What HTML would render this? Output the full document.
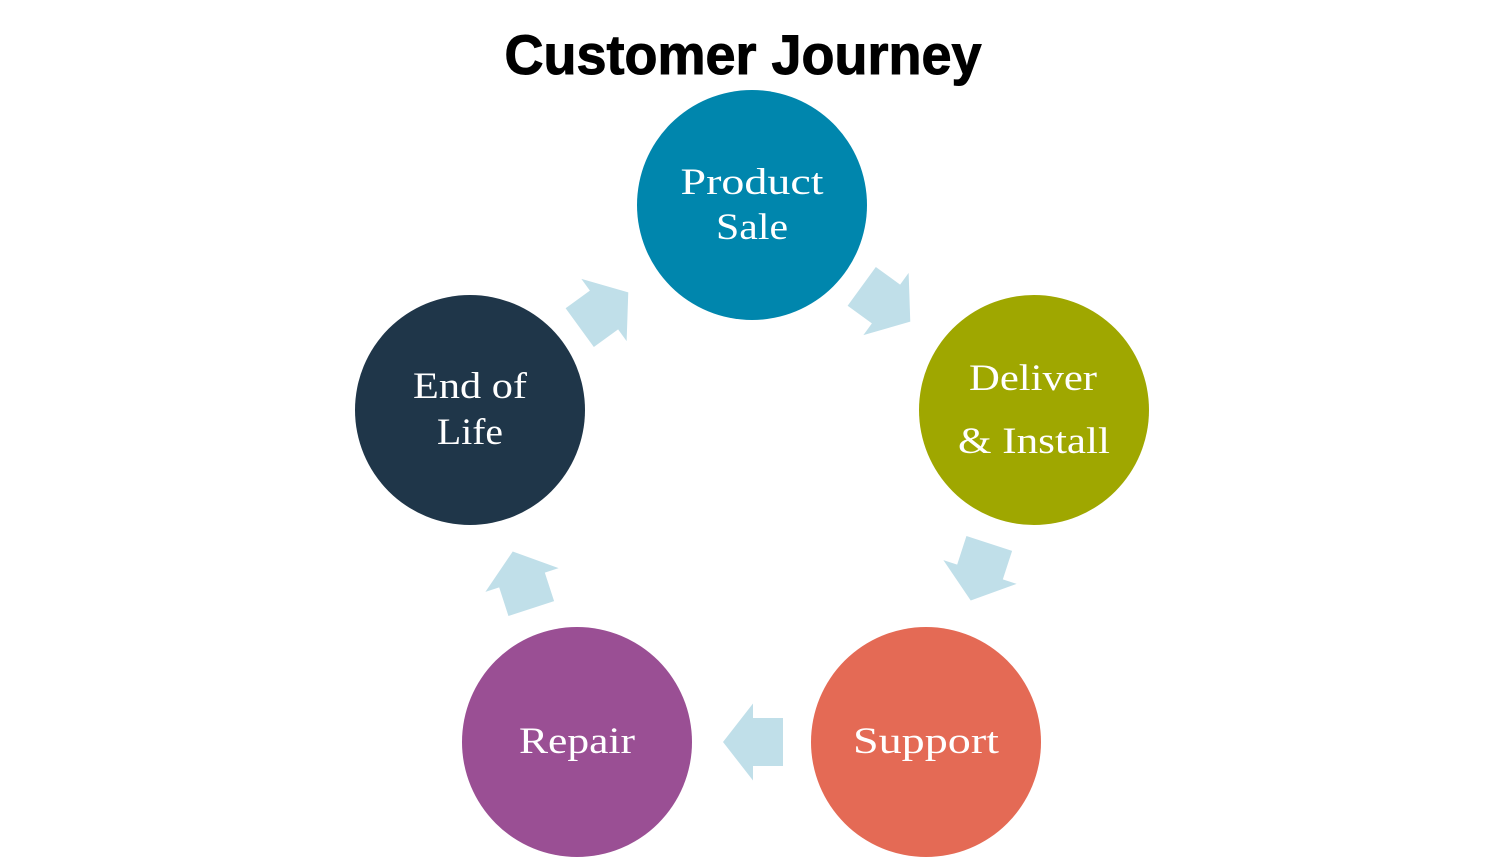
<!DOCTYPE html>
<html><head><style>
body{margin:0;background:#fff;}
</style></head><body>
<svg width="1503" height="859" xmlns="http://www.w3.org/2000/svg">
<rect width="1503" height="859" fill="#fff"/>
<text x="743" y="74" text-anchor="middle" font-family="'Liberation Sans Narrow','Liberation Sans',sans-serif" font-weight="bold" font-size="56" textLength="477" lengthAdjust="spacingAndGlyphs" fill="#000" stroke="#000" stroke-width="1">Customer Journey</text>
<defs>
<polygon id="ar" points="-30,-24 0,-24 0,-38.5 30,0 0,38.5 0,24 -30,24" fill="#c0dfe9"/>
</defs>
<use href="#ar" transform="translate(886,304) rotate(36)"/>
<use href="#ar" transform="translate(980,572) rotate(108)"/>
<use href="#ar" transform="translate(753,742) rotate(180)"/>
<use href="#ar" transform="translate(522,580) rotate(252)"/>
<use href="#ar" transform="translate(604,310) rotate(-36)"/>
<g font-family="'Liberation Serif',serif" font-size="37" fill="#fff" text-anchor="middle" lengthAdjust="spacingAndGlyphs">
<circle cx="752" cy="205" r="115" fill="#0086ad"/>
<text x="752" y="194" textLength="143" lengthAdjust="spacingAndGlyphs">Product</text><text x="752" y="239" textLength="72" lengthAdjust="spacingAndGlyphs">Sale</text>
<circle cx="1034" cy="410" r="115" fill="#9fa700"/>
<text x="1033" y="390" textLength="128" lengthAdjust="spacingAndGlyphs">Deliver</text><text x="1034" y="453" textLength="152" lengthAdjust="spacingAndGlyphs">&amp; Install</text>
<circle cx="926" cy="742" r="115" fill="#e46a55"/>
<text x="926" y="753" textLength="146" lengthAdjust="spacingAndGlyphs">Support</text>
<circle cx="577" cy="742" r="115" fill="#9a4f94"/>
<text x="577" y="753" textLength="116" lengthAdjust="spacingAndGlyphs">Repair</text>
<circle cx="470" cy="410" r="115" fill="#1f3649"/>
<text x="470" y="398" textLength="114" lengthAdjust="spacingAndGlyphs">End of</text><text x="470" y="444" textLength="66" lengthAdjust="spacingAndGlyphs">Life</text>
</g>
</svg>
</body></html>
